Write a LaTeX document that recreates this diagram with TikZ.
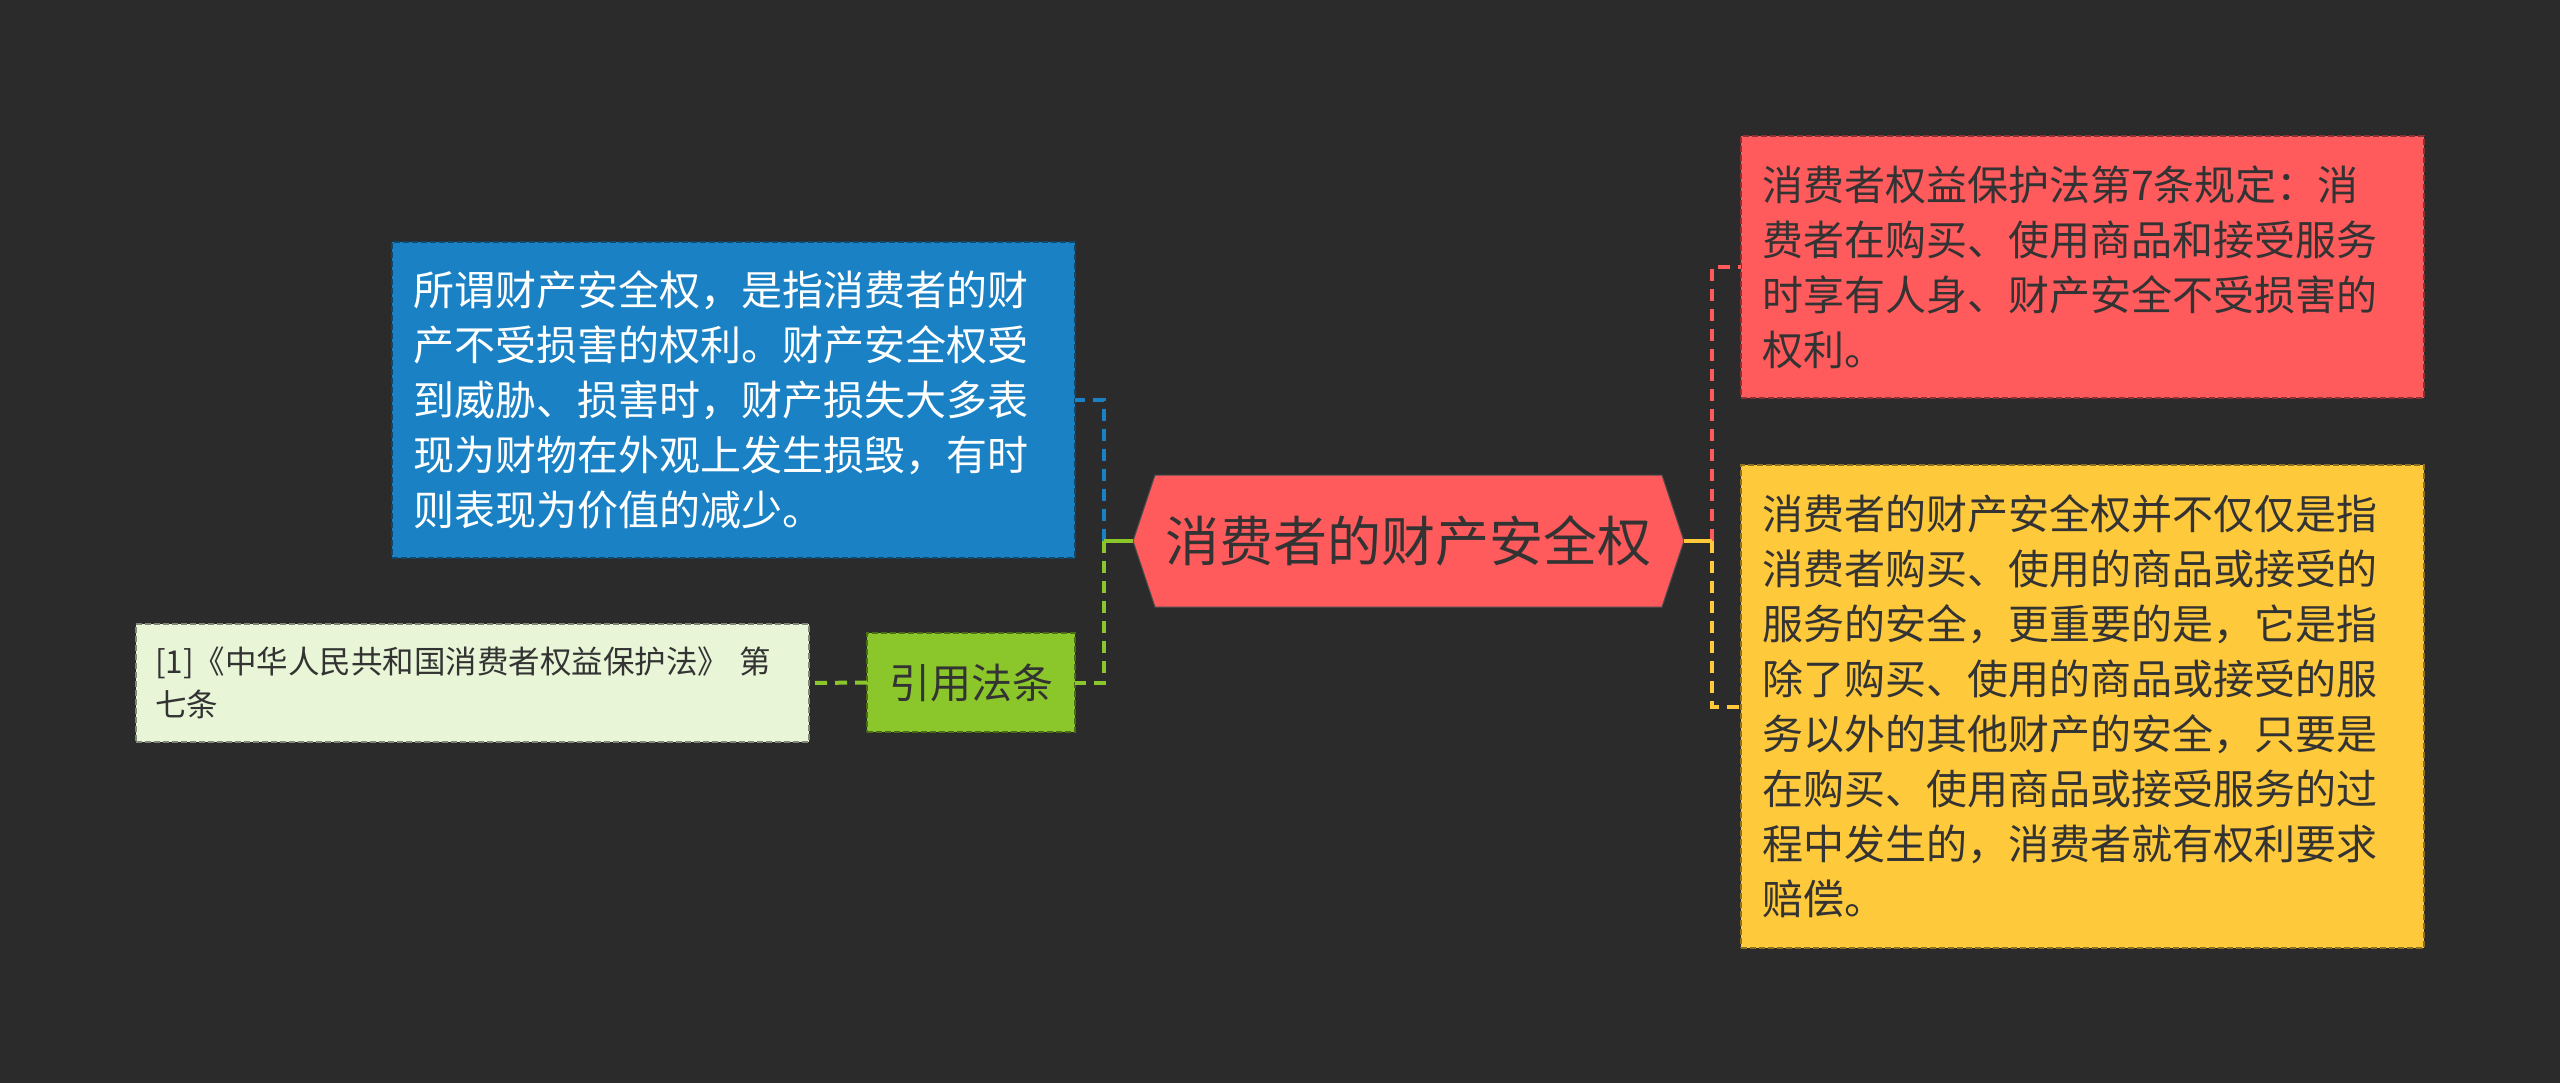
\documentclass[tikz,border=0pt]{standalone}
\usepackage{fontspec}
\setmainfont{Noto Sans CJK SC}
\usetikzlibrary{calc}
\definecolor{bg}{HTML}{2B2B2B}
\definecolor{cred}{HTML}{FF5A5C}
\definecolor{cyel}{HTML}{FFC93C}
\definecolor{cblue}{HTML}{1A82C4}
\definecolor{cgreen}{HTML}{8BC62B}
\definecolor{clight}{HTML}{E8F5D6}
\definecolor{txt}{HTML}{333333}
\tikzset{
  leaf/.style={rectangle, inner xsep=21pt, inner ysep=0pt, align=left,
    text width=641pt, minimum width=683pt, outer sep=0pt,
    font=\fontsize{41}{55}\selectfont, text=txt,
    dash pattern=on 6pt off 3pt, line width=1.5pt},
  conn/.style={line width=4pt, dash pattern=on 12pt off 8pt},
  stub/.style={line width=4pt},
}
\begin{document}
\begin{tikzpicture}[x=1pt,y=-1pt]
\useasboundingbox[fill=bg] (0,0) rectangle (2560,1083);

% central hexagon
\fill[cred, draw=black!70, line width=1pt] (1133,541) -- (1155,475) -- (1662,475) -- (1684,541) -- (1662,607) -- (1155,607) -- cycle;
\node[minimum width=551pt, minimum height=132pt, inner sep=0pt, outer sep=0pt,
  font=\fontsize{54}{60}\selectfont, text=txt] (c) at (1408.5,541) {消费者的财产安全权};

% left children
\node[leaf, fill=cblue, draw=cblue!55!black, text=white, minimum height=316pt] (blue) at (733.5,400)
{所谓财产安全权，是指消费者的财\\产不受损害的权利。财产安全权受\\到威胁、损害时，财产损失大多表\\现为财物在外观上发生损毁，有时\\则表现为价值的减少。};

\node[rectangle, fill=cgreen, draw=cgreen!55!black, dash pattern=on 6pt off 3pt, line width=1.5pt,
  minimum width=208pt, minimum height=99pt, inner sep=0pt, outer sep=0pt,
  font=\fontsize{41}{49}\selectfont, text=txt] (law) at (971,682.5) {引用法条};

\node[leaf, fill=clight, draw=clight!55!black, inner xsep=19pt, text width=635pt, minimum width=673pt,
  minimum height=118pt, font=\fontsize{31.5}{43}\selectfont] (ref) at (472.5,683)
{[1]《中华人民共和国消费者权益保护法》 第\\七条};

% right children
\node[leaf, fill=cred, draw=cred!55!black, minimum height=262pt] (red) at (2082.5,267)
{消费者权益保护法第7条规定：消\\费者在购买、使用商品和接受服务\\时享有人身、财产安全不受损害的\\权利。};

\node[leaf, fill=cyel, draw=cyel!55!black, minimum height=483pt] (yel) at (2082.5,706.5)
{消费者的财产安全权并不仅仅是指\\消费者购买、使用的商品或接受的\\服务的安全，更重要的是，它是指\\除了购买、使用的商品或接受的服\\务以外的其他财产的安全，只要是\\在购买、使用商品或接受服务的过\\程中发生的，消费者就有权利要求\\赔偿。};

% connectors
\coordinate (lb) at (1104,541);
\coordinate (rb) at (1712,541);
\draw[conn, cblue] (lb) |- (blue.east);
\draw[conn, cgreen] (lb) |- (law.east);
\draw[stub, cgreen] (c.west) -- (lb);
\draw[conn, cred] (rb) |- (red.west);
\draw[conn, cyel] (rb) |- (yel.west);
\draw[stub, cyel] (c.east) -- (rb);
\draw[conn, cgreen] (law.west) -- (ref.east);
\end{tikzpicture}
\end{document}
